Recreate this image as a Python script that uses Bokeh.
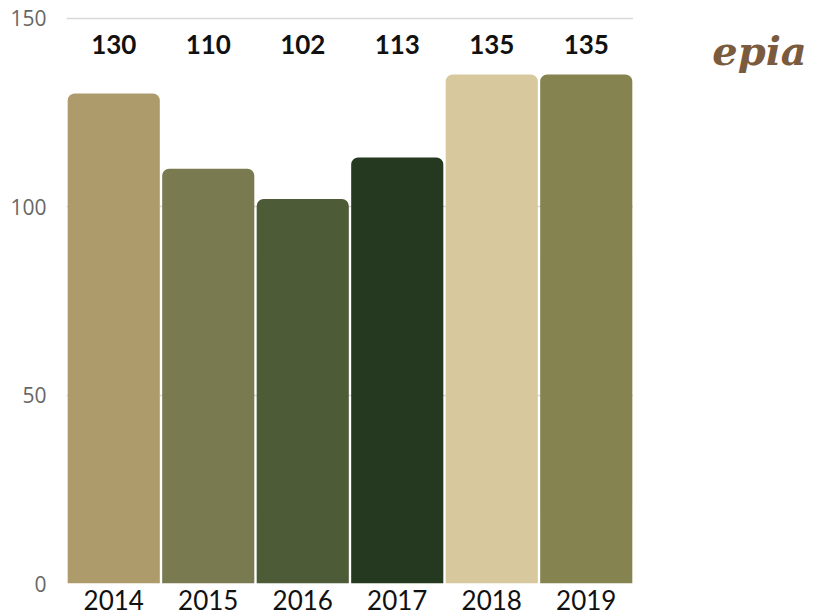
from bokeh.plotting import figure
from bokeh.models import ColumnDataSource, FixedTicker, Range1d
from bokeh.layouts import row
from bokeh.embed import file_html
from bokeh.resources import INLINE
from bokeh.core.properties import value

years = ["2014", "2015", "2016", "2017", "2018", "2019"]
counts = [130, 110, 102, 113, 135, 135]
colors = ["#ae9b6c", "#7a7a50", "#4d5b36", "#243920", "#d7c89e", "#85834f"]
y_ticks = [0, 50, 100, 150]

Y_MAX = 150
label_y = Y_MAX - 7

src = ColumnDataSource(dict(
    year=years, count=counts, color=colors,
    label=[str(c) for c in counts], ly=[label_y] * len(years),
))

p = figure(width=633, height=615, x_range=years, y_range=Range1d(0, Y_MAX + 0.4),
           output_backend="svg", toolbar_location=None,
           min_border_left=66, min_border_right=0, min_border_top=16, min_border_bottom=32)
p.x_range.range_padding = 0
p.outline_line_color = None
p.background_fill_color = "white"
p.border_fill_color = "white"

p.vbar(x="year", top="count", width=0.975, source=src, fill_color="color",
       line_color=None, border_radius=(7, 7, 0, 0))

p.text(x="year", y="ly", text="label", source=src, text_align="center",
       text_baseline="middle", text_font=value("Lato"), text_font_style="bold",
       text_font_size="26px", text_color="#111111")

p.xgrid.grid_line_color = None
p.ygrid.grid_line_color = "#d9d9d9"
p.ygrid.grid_line_width = 1.5
p.yaxis.ticker = FixedTicker(ticks=y_ticks)

for ax in (p.xaxis, p.yaxis):
    ax.axis_line_color = None
    ax.major_tick_line_color = None
    ax.minor_tick_line_color = None

p.yaxis.major_label_text_font = "Open Sans"
p.yaxis.major_label_text_font_size = "21px"
p.yaxis.major_label_text_color = "#666666"
p.yaxis.major_label_standoff = 14

p.xaxis.major_label_text_font = "Lato"
p.xaxis.major_label_text_font_size = "26px"
p.xaxis.major_label_text_color = "#111111"
p.xaxis.major_label_standoff = 0

# logo panel
logo = figure(width=201, height=615, x_range=Range1d(0, 201), y_range=Range1d(0, 615),
              output_backend="svg", toolbar_location=None,
              min_border=0)
logo.axis.visible = False
logo.grid.visible = False
logo.outline_line_color = None
logo.text(x=[126], y=[578], text=["epia"], text_font=value("DejaVu Serif"),
          text_font_style="bold italic", text_font_size="40px", text_color="#7b5b3e",
          text_baseline="middle", text_align="center")

layout = row(p, logo, spacing=0)
open("out.html", "w").write(file_html(layout, INLINE))
